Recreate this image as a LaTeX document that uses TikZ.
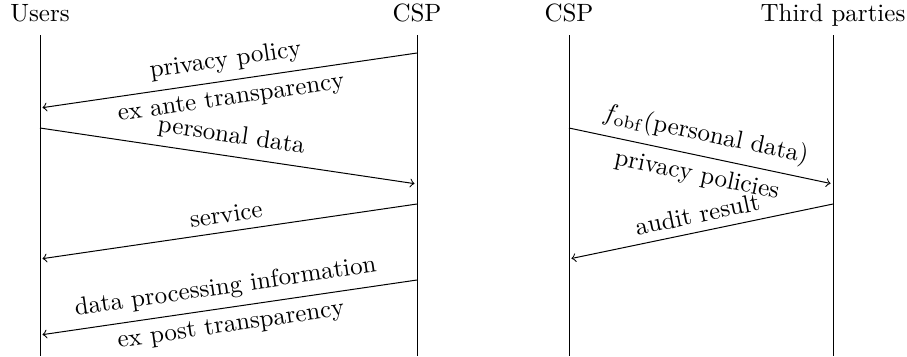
\documentclass[tikz,border=0pt]{standalone}
\begin{document}
\begin{tikzpicture}[x=0.4pt,y=-0.4pt,
  hdr/.style={anchor=base},
  lifeline/.style={draw, line width=0.4pt},
  msg/.style={->, >=to, shorten >=1pt},
  lbl/.style={sloped}]
\useasboundingbox (0,0) rectangle (907,356);
% headers
\node[hdr] (hu)  at (40,21)  {Users};
\node[hdr] (hc1) at (417,21) {CSP};
\node[hdr] (hc2) at (569,21) {CSP};
\node[hdr] (ht)  at (833,21) {Third parties};
% lifelines
\coordinate (u0)  at (40,35);  \coordinate (u1)  at (40,356);
\coordinate (c10) at (417,35); \coordinate (c11) at (417,356);
\coordinate (c20) at (569,35); \coordinate (c21) at (569,356);
\coordinate (t0)  at (833,35); \coordinate (t1)  at (833,356);
\draw[lifeline] (u0) -- (u1);
\draw[lifeline] (c10) -- (c11);
\draw[lifeline] (c20) -- (c21);
\draw[lifeline] (t0) -- (t1);
% message end points
\coordinate (m1s) at (417,53);  \coordinate (m1e) at (40,108);
\coordinate (m2s) at (40,128);  \coordinate (m2e) at (417,184);
\coordinate (m3s) at (417,204); \coordinate (m3e) at (40,259);
\coordinate (m4s) at (417,280); \coordinate (m4e) at (40,335);
\coordinate (m5s) at (569,128); \coordinate (m5e) at (833,184);
\coordinate (m6s) at (833,204); \coordinate (m6e) at (569,259);
% messages
\draw[msg] (m1s) -- node[lbl,above] {privacy policy} node[lbl,below] {ex ante transparency} (m1e);
\draw[msg] (m2s) -- node[lbl,above] {personal data} (m2e);
\draw[msg] (m3s) -- node[lbl,above] {service} (m3e);
\draw[msg] (m4s) -- node[lbl,above] {data processing information} node[lbl,below] {ex post transparency} (m4e);
\draw[msg] (m5s) -- node[lbl,above] {$f_{\mathrm{obf}}$(personal data)} node[lbl,below] {privacy policies} (m5e);
\draw[msg] (m6s) -- node[lbl,above] {audit result} (m6e);
\end{tikzpicture}
\end{document}
